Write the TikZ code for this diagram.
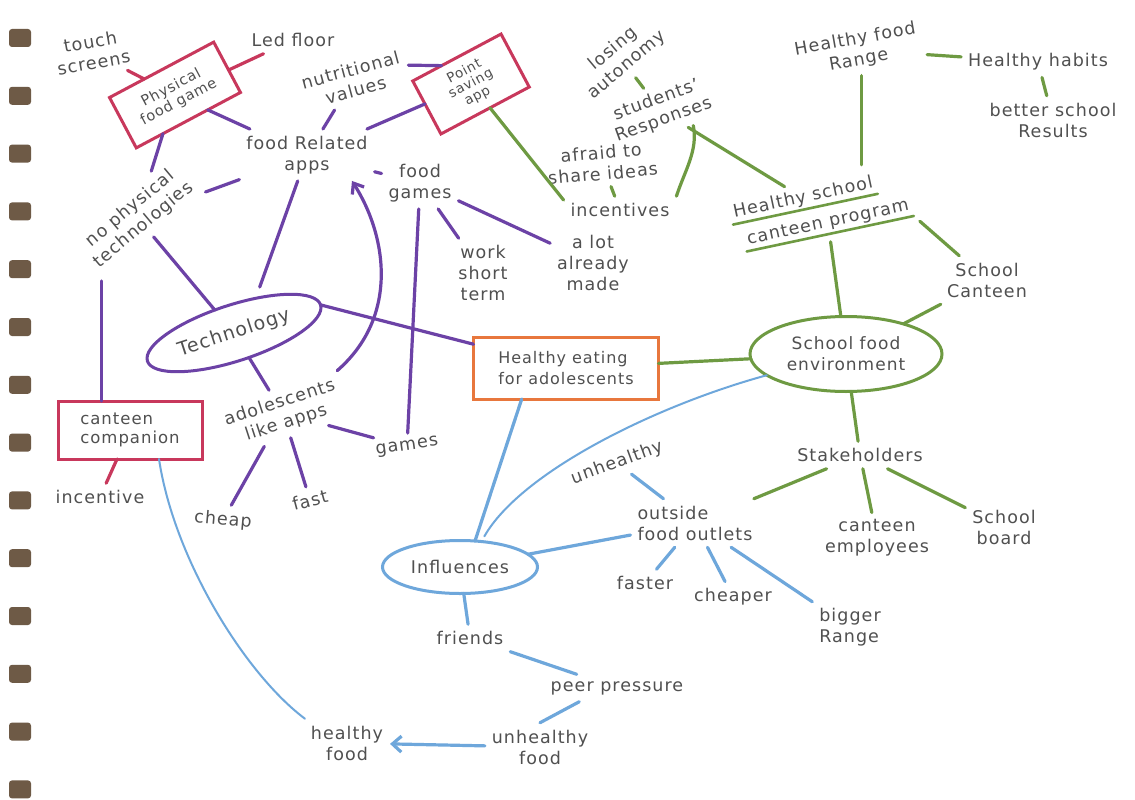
\documentclass[tikz,border=0pt]{standalone}
\usepackage{fontspec}
\setmainfont{DejaVu Sans}[LetterSpace=6]
\usepackage{tikz}
\usetikzlibrary{arrows.meta,shapes.geometric}
\definecolor{mapink}{HTML}{505050}
\definecolor{mappurple}{HTML}{6C42A6}
\definecolor{mapred}{HTML}{C8385C}
\definecolor{maporange}{HTML}{E8773D}
\definecolor{mapgreen}{HTML}{6E9A42}
\definecolor{mapblue}{HTML}{6EA7DB}
\definecolor{holebrown}{HTML}{6E5A46}
\tikzset{
  word/.style={text=mapink, align=center, inner sep=2pt, outer sep=5pt, font=\fontsize{17.5}{21}\selectfont},
  ideabox/.style={word, draw=mapred, line width=3pt, inner sep=5pt, outer sep=0pt, font=\fontsize{15}{18}\selectfont},
  ideabubble/.style={word, ellipse, line width=3pt, inner sep=0pt, outer sep=0pt},
  link/.style={line width=3.2pt, line cap=round},
  purplelink/.style={link, draw=mappurple},
  redlink/.style={link, draw=mapred},
  greenlink/.style={link, draw=mapgreen},
  bluelink/.style={link, draw=mapblue},
  thinblue/.style={line width=2pt, draw=mapblue, line cap=round},
  greenrule/.style={line width=2.6pt, draw=mapgreen, line cap=round},
  bindhole/.style={fill=holebrown, rounded corners=3pt}
}

\begin{document}
\begin{tikzpicture}[x=1pt,y=-1pt]
  \useasboundingbox (0,0) rectangle (1135,800);
  \fill[white] (0,0) rectangle (1135,800);

  % notebook binding
  \foreach \k in {0,...,13}
    \fill[bindhole] (9,{29+57.8*\k}) rectangle ++(22,18);

  % technology branch
  \node[word, rotate=10] (touch) at (92,52) {touch\\screens};
  \node[ideabox, rotate=28, minimum width=118pt, minimum height=57pt, font=\fontsize{14.5}{16}\selectfont] (pfg) at (175,95) {Physical\\food game};
  \node[word] (led) at (293,40) {Led floor};
  \node[word, rotate=15] (nutri) at (353,80) {nutritional\\values};
  \node[ideabox, rotate=28, minimum width=100pt, minimum height=60pt, font=\fontsize{13.5}{14}\selectfont] (psa) at (471,84) {Point\\saving\\app};
  \node[word] (fra) at (307,155) {food Related\\apps};
  \node[word, rotate=40] (nophys) at (137,217) {no physical\\technologies};
  \node[word] (fgames) at (420,183) {food\\games};
  \node[word] (work) at (483,273) {work\\short\\term};
  \node[word] (alot) at (593,263) {a lot\\already\\made};
  \node[ideabubble, draw=mappurple, rotate=18, minimum width=182pt, minimum height=56pt, font=\fontsize{19}{20}\selectfont] (tech) at (234,333) {Technology};
  \node[ideabox, align=left, minimum width=144pt, minimum height=58pt, font=\fontsize{16.5}{19}\selectfont] (cc) at (130,430) {canteen\\companion};
  \node[word] (incentive) at (100,497) {incentive};
  \node[word, rotate=18] (adol) at (283,413) {adolescents\\like apps};
  \node[word, rotate=8] (games) at (407,447) {games};
  \node[word, rotate=-5] (cheap) at (223,520) {cheap};
  \node[word, rotate=15] (fast) at (310,500) {fast};

  % centre
  \node[ideabox, draw=maporange, align=left, minimum width=185pt, minimum height=62pt, font=\fontsize{16}{21}\selectfont] (hea) at (566,368) {Healthy eating\\for adolescents};

  % school food environment branch
  \node[ideabubble, draw=mapgreen, minimum width=192pt, minimum height=75pt, font=\fontsize{17}{21}\selectfont] (sfe) at (846,354) {School food\\environment};
  \node[word] (stake) at (860,455) {Stakeholders};
  \node[word] (ce) at (877,538) {canteen\\employees};
  \node[word] (sb) at (1004,527) {School\\board};
  \node[word, rotate=40] (losing) at (620,57) {losing\\autonomy};
  \node[word, rotate=20] (stud) at (660,110) {students'\\Responses};
  \node[word, rotate=5] (afraid) at (602,163) {afraid to\\share ideas};
  \node[word] (incent) at (620,210) {incentives};
  \node[word, rotate=12, outer sep=1pt] (hsA) at (803,198) {Healthy school};
  \node[word, rotate=12, outer sep=1pt] (hsB) at (828,223) {canteen program};
  \node[word, rotate=10] (hfr) at (857,50) {Healthy food\\Range};
  \node[word] (hh) at (1038,62) {Healthy habits};
  \node[word] (bsr) at (1053,120) {better school\\Results};
  \node[word] (canteen) at (987,280) {School\\Canteen};

  % influences branch
  \node[ideabubble, draw=mapblue, minimum width=155pt, minimum height=53pt] (infl) at (460,567) {Influences};
  \node[word, align=left] (ofo) at (695,523) {outside\\food outlets};
  \node[word, rotate=20] (unh) at (617,463) {unhealthy};
  \node[word] (faster) at (645,583) {faster};
  \node[word] (cheaper) at (733,597) {cheaper};
  \node[word, align=left] (bigger) at (850,627) {bigger\\Range};
  \node[word] (friends) at (470,638) {friends};
  \node[word] (peer) at (617,688) {peer pressure};
  \node[word] (unhf) at (540,747) {unhealthy\\food};
  \node[word] (hf) at (347,743) {healthy\\food};

  % red links
  \draw[redlink] (touch) -- (pfg);
  \draw[redlink] (pfg) -- (led);
  \draw[redlink] (cc) -- (incentive);

  % purple links
  \draw[purplelink] (pfg) -- (fra);
  \draw[purplelink] (pfg) -- (nophys);
  \draw[purplelink] (nutri) -- (fra);
  \draw[purplelink] (nutri.east) -- (psa.120);
  \draw[purplelink] (psa) -- (fra);
  \draw[purplelink] (fra) -- (nophys);
  \draw[purplelink] (fra) -- (fgames);
  \draw[purplelink, shorten >=12pt] (fra) -- (tech.40);
  \draw[purplelink] (nophys) -- (tech);
  \draw[purplelink] (nophys.south west) -- (nophys.south west |- cc.north);
  \draw[purplelink] (fgames) -- (work);
  \draw[purplelink] (fgames) -- (alot);
  \draw[purplelink] (fgames) -- (games);
  \draw[purplelink] (tech.east) -- (hea);
  \draw[purplelink] (tech) -- (adol);
  \draw[purplelink] (adol) -- (games);
  \draw[purplelink] (adol) -- (cheap);
  \draw[purplelink] (adol) -- (fast);
  \draw[purplelink, -{Straight Barb[length=9pt,width=14pt]}] (adol.20) .. controls +(62,-54) and +(35,55) .. (fra.-30);

  % green links
  \draw[greenlink] (hea) -- (sfe);
  \draw[greenlink] (psa) -- (incent.170);
  \draw[greenlink] (afraid) -- (incent);
  \draw[greenlink] (stud.-45) .. controls +(5,25) and +(8,-25) .. (incent.north east);
  \draw[greenlink] (stud) -- (losing);
  \draw[greenlink, shorten >=5pt] (stud) -- (hsA);
  \draw[greenlink, shorten >=22pt] (hfr.south) -- (hfr.south |- hsA.north);
  \draw[greenlink] (hfr) -- (hh);
  \draw[greenlink] (hh) -- (bsr);
  \draw[greenrule] (hsA.south west) -- (hsA.south east);
  \draw[greenrule] (hsB.south west) -- (hsB.south east);
  \draw[greenlink, shorten <=8pt] (hsB) -- (sfe);
  \draw[greenlink, shorten <=8pt] (hsB.south east) -- (canteen);
  \draw[greenlink] (canteen) -- (sfe);
  \draw[greenlink] (sfe) -- (stake);
  \draw[greenlink] (stake) -- (ofo);
  \draw[greenlink] (stake) -- (ce);
  \draw[greenlink] (stake) -- (sb);

  % blue links
  \draw[bluelink] (hea.-145) -- (infl.60);
  \draw[thinblue, shorten >=6pt] (sfe.195) .. controls +(-110,30) and +(40,-70) .. (infl.50);
  \draw[bluelink] (unh) -- (ofo);
  \draw[bluelink] (infl) -- (ofo);
  \draw[bluelink] (ofo) -- (faster);
  \draw[bluelink] (ofo) -- (cheaper);
  \draw[bluelink] (ofo) -- (bigger);
  \draw[bluelink] (infl) -- (friends);
  \draw[bluelink] (friends) -- (peer);
  \draw[bluelink] (peer.-160) -- (unhf.north);
  \draw[bluelink, -{Straight Barb[length=9pt,width=16pt]}] (unhf) -- (hf);
  \draw[thinblue] (cc.-45) .. controls +(15,100) and +(-60,-45) .. (hf.150);
\end{tikzpicture}
\end{document}
